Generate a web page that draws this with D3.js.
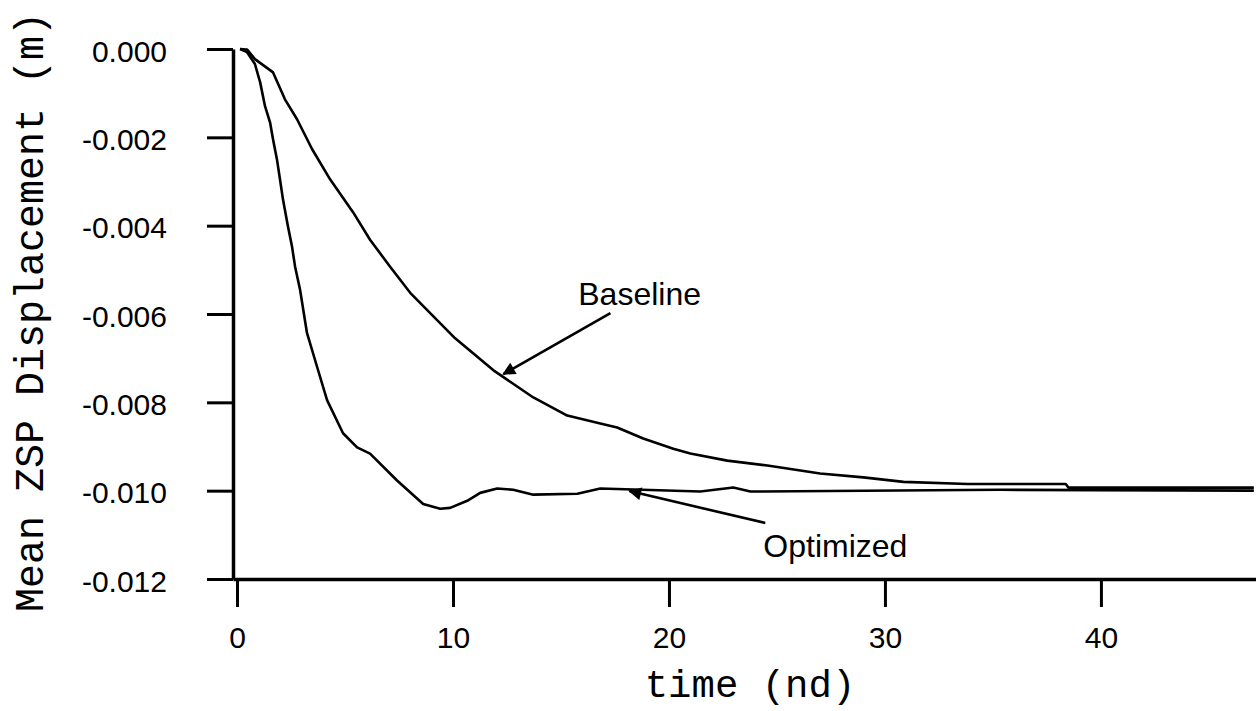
<!DOCTYPE html>
<html>
<head>
<meta charset="utf-8">
<script src="https://cdn.jsdelivr.net/npm/d3@7"></script>
<style>
	body { margin: 0; background: #fff; }
	.tick text { font-family: "Liberation Sans", Arial, sans-serif; font-size: 30px; fill: #000; }
	.title { font-family: "Liberation Mono", "Courier New", monospace; font-size: 39px; fill: #000; }
	.note { font-family: "Liberation Sans", Arial, sans-serif; font-size: 32px; fill: #000; }
	.curve { fill: none; stroke: #000; stroke-width: 2.6; stroke-linejoin: round; }
</style>
</head>
<body>
<div id="chart"></div>
<script>
// time (nd) and mean displacement (m)
const baselineTime = [0.14, 0.46, 0.83, 1.67, 2.22, 2.78, 3.48, 4.31, 5.38, 6.16, 7.09, 8.02, 10.1, 11.86, 13.72, 15.29, 16.82, 17.6, 18.81, 20.2, 20.99, 22.7, 24.56, 27.0, 29.0, 30.86, 33.83, 35.36, 38.37, 38.5, 47.08];
const baselineDisp = [0, -0.00001, -0.00023, -0.00053, -0.00114, -0.00159, -0.00227, -0.00295, -0.00370, -0.00432, -0.00493, -0.00552, -0.00655, -0.00727, -0.00789, -0.00830, -0.00848, -0.00857, -0.00882, -0.00905, -0.00916, -0.00932, -0.00943, -0.00961, -0.00970, -0.00980, -0.00985, -0.00985, -0.00985, -0.00993, -0.00993];

const optimizedTime = [0.14, 0.46, 0.83, 1.07, 1.30, 1.53, 1.67, 1.85, 1.99, 2.13, 2.36, 2.55, 2.69, 2.92, 3.24, 3.71, 4.17, 4.91, 5.56, 6.16, 7.41, 8.62, 9.41, 9.87, 10.66, 11.26, 12.05, 12.79, 13.72, 15.76, 16.82, 21.45, 22.98, 23.77, 35.36, 47.08];
const optimizedDisp = [0, -0.00007, -0.00034, -0.00075, -0.00130, -0.00166, -0.00205, -0.00250, -0.00295, -0.00341, -0.00402, -0.00448, -0.00493, -0.00545, -0.00643, -0.00720, -0.00795, -0.00870, -0.00902, -0.00916, -0.00977, -0.01030, -0.01041, -0.01039, -0.01023, -0.01005, -0.00995, -0.00998, -0.01009, -0.01007, -0.00995, -0.01002, -0.00993, -0.01002, -0.00998, -0.01000];

const xTicks = [0, 10, 20, 30, 40];
const yTicks = [0, -0.002, -0.004, -0.006, -0.008, -0.010, -0.012];

// labels with arrows: [text, text t, text v, tail t, tail v, tip t, tip v]
const notes = [
	["Baseline", 15.8, -0.0058, 17.29, -0.00598, 12.33, -0.00736],
	["Optimized", 24.37, -0.0115, 24.46, -0.01073, 18.17, -0.01001]
];

const width = 1256;
const height = 711;

const svg = d3.select("#chart")
	.append("svg")
	.attr("width", width)
	.attr("height", height);

const xscale = d3.scaleLinear()
	.domain([-0.185, 47.18])
	.range([233, 1256]);

const yscale = d3.scaleLinear()
	.domain([-0.012, 0])
	.range([579, 49]);

const x_axis = d3.axisBottom()
	.scale(xscale)
	.tickValues(xTicks)
	.tickSize(28)
	.tickSizeOuter(0)
	.tickPadding(20)
	.tickFormat(d3.format("d"));

const y_axis = d3.axisLeft()
	.scale(yscale)
	.tickValues(yTicks)
	.tickSize(26)
	.tickSizeOuter(0)
	.tickPadding(40)
	.tickFormat(x => d3.format(".3f")(x).replace("\u2212", "-"));

const gx = svg.append("g")
	.attr("transform", "translate(0," + yscale(-0.012) + ")")
	.call(x_axis);

const gy = svg.append("g")
	.attr("transform", "translate(" + xscale.range()[0] + ",0)")
	.call(y_axis);

[gx, gy].forEach(g => {
	g.select(".domain").attr("stroke", "#000").attr("stroke-width", 3.5);
	g.selectAll(".tick line").attr("stroke", "#000").attr("stroke-width", 3);
});
gy.selectAll(".tick text").attr("dy", "0.40em");

// axis titles
svg.append("text")
	.attr("class", "title")
	.attr("x", 750)
	.attr("y", 697)
	.attr("text-anchor", "middle")
	.text("time (nd)");

svg.append("text")
	.attr("class", "title")
	.attr("transform", "translate(43,312) rotate(-90)")
	.attr("text-anchor", "middle")
	.style("font-size", "40px")
	.text("Mean ZSP Displacement (m)");

// curves
const line = d3.line()
	.x(d => xscale(d[0]))
	.y(d => yscale(d[1]));

svg.append("path")
	.attr("class", "curve")
	.attr("d", line(d3.zip(baselineTime, baselineDisp)));

svg.append("path")
	.attr("class", "curve")
	.attr("d", line(d3.zip(optimizedTime, optimizedDisp)));

// arrow heads
svg.append("defs")
	.append("marker")
	.attr("id", "head")
	.attr("viewBox", "0 0 10 10")
	.attr("refX", 9)
	.attr("refY", 5)
	.attr("markerWidth", 6)
	.attr("markerHeight", 5)
	.attr("markerUnits", "strokeWidth")
	.attr("orient", "auto")
	.append("path")
	.attr("d", "M0,0L10,5L0,10z")
	.attr("fill", "#000");

notes.forEach(n => {
	svg.append("text")
		.attr("class", "note")
		.attr("x", xscale(n[1]))
		.attr("y", yscale(n[2]))
		.text(n[0]);
	svg.append("line")
		.attr("x1", xscale(n[3]))
		.attr("y1", yscale(n[4]))
		.attr("x2", xscale(n[5]))
		.attr("y2", yscale(n[6]))
		.attr("stroke", "#000")
		.attr("stroke-width", 2.6)
		.attr("marker-end", "url(#head)");
});
</script>
</body>
</html>
